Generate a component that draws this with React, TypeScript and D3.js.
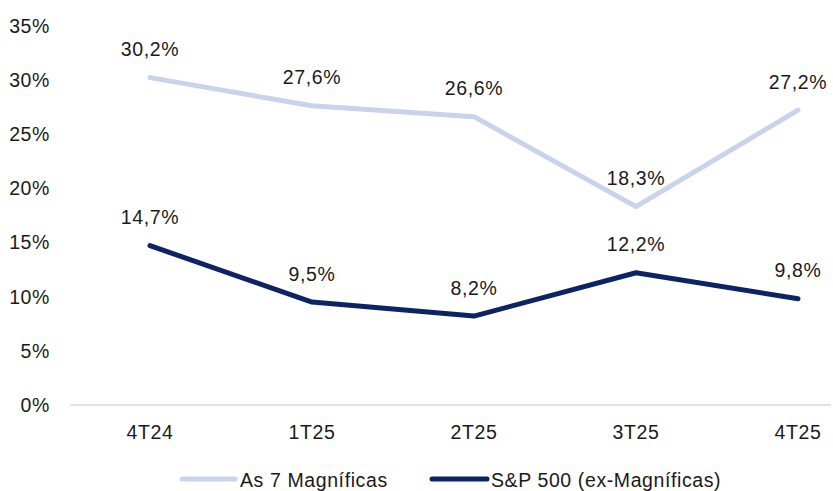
import React, { useEffect, useRef } from 'react';
import * as d3 from 'd3';

const categories = ['4T24', '1T25', '2T25', '3T25', '4T25'];
const magnificas = [30.2, 27.6, 26.6, 18.3, 27.2];
const sp500ex = [14.7, 9.5, 8.2, 12.2, 9.8];
const yTicks = [0, 5, 10, 15, 20, 25, 30, 35];

const series = [
  { name: 'As 7 Magníficas', values: magnificas, color: '#C9D3EC' },
  { name: 'S&P 500 (ex-Magníficas)', values: sp500ex, color: '#0C2463' },
];

const width = 833;
const height = 491;
const font = 'Arial, "Liberation Sans", sans-serif';
const fs = 19.5;
const ls = 0.6;

const App = () => {
  const svgRef = useRef<SVGSVGElement>(null);

  useEffect(() => {
    const svg = d3.select(svgRef.current);
    svg.selectAll('*').remove();

    const x = d3.scalePoint<string>()
      .domain(categories)
      .range([150, 798]);

    const y = d3.scaleLinear()
      .domain([0, 35])
      .range([405, 25.6]);

    const fmt = (v: number) => v.toFixed(1).replace('.', ',') + '%';

    const styleText = (sel: any) =>
      sel
        .attr('font-family', font)
        .attr('font-size', fs)
        .attr('letter-spacing', ls)
        .attr('fill', '#1a1a1a');

    // y tick labels
    svg.append('g')
      .selectAll('text')
      .data(yTicks)
      .enter()
      .append('text')
      .attr('x', 50)
      .attr('y', d => y(d) + 7)
      .attr('text-anchor', 'end')
      .call(styleText)
      .text(d => d + '%');

    // baseline
    svg.append('line')
      .attr('x1', 70)
      .attr('x2', 831)
      .attr('y1', y(0))
      .attr('y2', y(0))
      .attr('stroke', '#d9d9d9')
      .attr('stroke-width', 1.5);

    // x labels
    svg.append('g')
      .selectAll('text')
      .data(categories)
      .enter()
      .append('text')
      .attr('x', d => x(d)!)
      .attr('y', 439)
      .attr('text-anchor', 'middle')
      .call(styleText)
      .text(d => d);

    const line = d3.line<number>()
      .x((d, i) => x(categories[i])!)
      .y(d => y(d));

    series.forEach(s => {
      svg.append('path')
        .datum(s.values)
        .attr('fill', 'none')
        .attr('stroke', s.color)
        .attr('stroke-width', 5)
        .attr('stroke-linejoin', 'round')
        .attr('stroke-linecap', 'round')
        .attr('d', line);

      svg.append('g')
        .selectAll('text')
        .data(s.values)
        .enter()
        .append('text')
        .attr('x', (d, i) => x(categories[i])!)
        .attr('y', d => y(d) - 21.5)
        .attr('text-anchor', 'middle')
        .call(styleText)
        .text(d => fmt(d));
    });

    // legend
    const legendItems = [
      { x1: 182, x2: 235, tx: 240 },
      { x1: 432, x2: 487, tx: 491 },
    ];
    series.forEach((s, i) => {
      const it = legendItems[i];
      svg.append('line')
        .attr('x1', it.x1)
        .attr('x2', it.x2)
        .attr('y1', 479)
        .attr('y2', 479)
        .attr('stroke', s.color)
        .attr('stroke-width', 5)
        .attr('stroke-linecap', 'round');
      svg.append('text')
        .attr('x', it.tx)
        .attr('y', 486.5)
        .call(styleText)
        .text(s.name);
    });
  }, []);

  return (
    <svg
      ref={svgRef}
      width={width}
      height={height}
      style={{ position: 'absolute', left: 0, top: 0, background: '#fff' }}
    />
  );
};

export default App;
